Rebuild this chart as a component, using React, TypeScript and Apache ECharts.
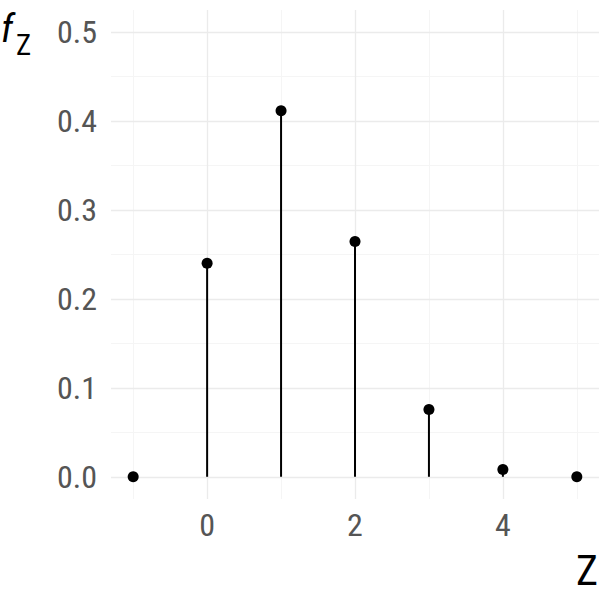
import React, { useEffect, useRef } from "react";
import * as echarts from "echarts";

const zValues = [-1, 0, 1, 2, 3, 4, 5];
const probs = [0, 0.2401, 0.4116, 0.2646, 0.0756, 0.0081, 0];
const xMajor = [0, 2, 4];
const xMinor = [-1, 1, 3, 5];
const yMajor = [0, 0.1, 0.2, 0.3, 0.4, 0.5];
const yMinor = [0.05, 0.15, 0.25, 0.35, 0.45];

const FONT = "'Roboto Condensed', 'Liberation Sans Narrow', 'DejaVu Sans Condensed', Roboto, sans-serif";

export default function App() {
  const ref = useRef<HTMLDivElement>(null);
  useEffect(() => {
    document.body.style.margin = "0";
    const chart = echarts.init(ref.current!, null, { renderer: "svg" });
    const points = zValues.map((z, i) => [z, probs[i]]);
    const minorStyle = { color: "#f5f5f5", width: 1, type: "solid" };
    const majorStyle = { color: "#ebebeb", width: 1.3, type: "solid" };
    const gridLines = [
      ...xMinor.map((v) => ({ xAxis: v, lineStyle: minorStyle })),
      ...yMinor.map((v) => ({ yAxis: v, lineStyle: minorStyle })),
      ...xMajor.map((v) => ({ xAxis: v, lineStyle: majorStyle })),
      ...yMajor.map((v) => ({ yAxis: v, lineStyle: majorStyle })),
    ];
    chart.setOption({
      animation: false,
      grid: { left: 111, right: 1, top: 10, bottom: 101, containLabel: false },
      xAxis: {
        type: "value",
        min: -1.3,
        max: 5.3,
        axisLine: { show: false },
        axisTick: { show: false },
        splitLine: { show: false },
        axisLabel: {
          customValues: xMajor,
          formatter: (v: number) => String(v),
          color: "#555555",
          fontSize: 32,
          fontWeight: "normal",
          fontFamily: FONT,
          margin: 10,
        },
      },
      yAxis: {
        type: "value",
        min: -0.025,
        max: 0.525,
        axisLine: { show: false },
        axisTick: { show: false },
        splitLine: { show: false },
        axisLabel: {
          customValues: yMajor,
          formatter: (v: number) => v.toFixed(1),
          color: "#555555",
          fontSize: 32,
          fontWeight: "normal",
          fontFamily: FONT,
          margin: 14,
        },
      },
      graphic: [
        {
          type: "text",
          left: 1,
          top: 9,
          style: {
            text: "{f|f}{z|Z}",
            fontWeight: "normal",
            rich: {
              f: { fontSize: 39, fontStyle: "italic", fontWeight: "normal", fontFamily: FONT, fill: "#000", verticalAlign: "top" },
              z: { fontSize: 29, fontWeight: "normal", fontFamily: FONT, fill: "#000", padding: [21, 0, 0, 3] },
            },
          },
        },
        {
          type: "text",
          right: 2,
          top: 549,
          style: { text: "Z", fontSize: 42, fontWeight: "normal", fontFamily: FONT, fill: "#000" },
        },
      ],
      series: [
        {
          type: "line",
          data: [],
          silent: true,
          z: 0,
          markLine: {
            silent: true,
            z: 0,
            symbol: "none",
            label: { show: false },
            emphasis: { disabled: true },
            data: gridLines,
          },
        },
        {
          type: "custom",
          data: points,
          z: 10,
          silent: true,
          renderItem: (params: any, api: any) => {
            const x = api.value(0);
            const y = api.value(1);
            const p0 = api.coord([x, 0]);
            const p1 = api.coord([x, y]);
            return {
              type: "line",
              shape: { x1: p0[0], y1: p0[1], x2: p1[0], y2: p1[1] },
              style: { stroke: "#000", lineWidth: 2 },
            };
          },
        },
        {
          type: "scatter",
          data: points,
          symbolSize: 11,
          itemStyle: { color: "#000", opacity: 1 },
          z: 11,
        },
      ],
    });
    return () => chart.dispose();
  }, []);
  return <div ref={ref} style={{ width: 600, height: 600 }} />;
}
